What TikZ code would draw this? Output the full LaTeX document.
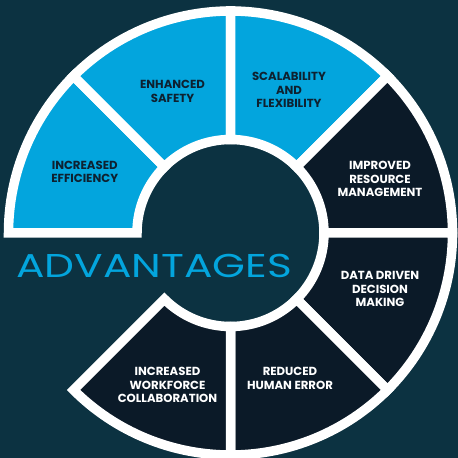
\documentclass[tikz,border=0pt]{standalone}
\usepackage{fontspec}
\setmainfont{Poppins}
\definecolor{bgcol}{HTML}{0C3241}
\definecolor{bluecol}{HTML}{03A5DD}
\definecolor{navycol}{HTML}{0B1A28}
\definecolor{inktext}{HTML}{0E2130}
\tikzset{
  segline/.style={draw=white, line width=9.5pt, line join=miter},
  lbl/.style={align=center, inner sep=0pt, font=\bfseries\fontsize{11.7}{13.5}\selectfont},
  onblue/.style={lbl, text=inktext},
  onnavy/.style={lbl, text=white},
}
\begin{document}
\begin{tikzpicture}[x=1pt,y=1pt]
\fill[bgcol] (0,0) rectangle (458,458);
\useasboundingbox (0,0) rectangle (458,458);
\begin{scope}[shift={(230.5,225)}]
\foreach \a/\b/\c in {135/180/bluecol, 90/135/bluecol, 45/90/bluecol, 0/45/navycol, -45/0/navycol, -90/-45/navycol, -135/-90/navycol}{
  \draw[segline, fill=\c] (\a:93.5pt) -- (\a:222pt) arc[start angle=\a, end angle=\b, radius=222pt] -- (\b:93.5pt) arc[start angle=\b, end angle=\a, radius=93.5pt] -- cycle;
}
\end{scope}
\node[onblue] (safety) at (172.5,366.5) {ENHANCED\\SAFETY};
\node[onblue] (eff) at (84.7,286) {INCREASED\\EFFICIENCY};
\node[onblue] (scal) at (289,368) {SCALABILITY\\AND\\FLEXIBILITY};
\node[onnavy] (resource) at (380,279) {IMPROVED\\RESOURCE\\MANAGEMENT};
\node[onnavy] (data) at (380,169) {DATA DRIVEN\\DECISION\\MAKING};
\node[onnavy] (human) at (290,79.5) {REDUCED\\HUMAN ERROR};
\node[onnavy] (work) at (167.5,73) {INCREASED\\WORKFORCE\\COLLABORATION};
\node[inner sep=0pt, text=bluecol, font=\fontsize{33}{34}\selectfont, xscale=1.28] (adv) at (154,192) {ADVANTAGES};
\end{tikzpicture}
\end{document}
